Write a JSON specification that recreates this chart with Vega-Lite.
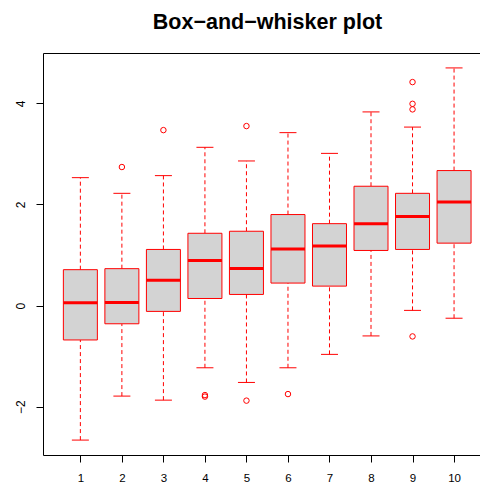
{
  "$schema": "https://vega.github.io/schema/vega-lite/v6.json",
  "width": 437,
  "height": 402,
  "autosize": {"type": "none"},
  "padding": {"left": 43, "top": 53, "right": 0, "bottom": 29},
  "background": "white",
  "title": {
    "text": "Box−and−whisker plot",
    "font": "Liberation Sans",
    "fontSize": 21.5,
    "fontWeight": "bold",
    "color": "black",
    "anchor": "middle",
    "baseline": "alphabetic",
    "dx": 6,
    "offset": 3
  },
  "datasets": {
    "boxes": [
      {"g": 1, "lo": -2.66, "q1": -0.68, "med": 0.055, "q3": 0.71, "hi": 2.53},
      {"g": 2, "lo": -1.79, "q1": -0.36, "med": 0.06, "q3": 0.73, "hi": 2.22},
      {"g": 3, "lo": -1.87, "q1": -0.115, "med": 0.5, "q3": 1.11, "hi": 2.57},
      {"g": 4, "lo": -1.23, "q1": 0.14, "med": 0.89, "q3": 1.43, "hi": 3.13},
      {"g": 5, "lo": -1.52, "q1": 0.22, "med": 0.735, "q3": 1.47, "hi": 2.86},
      {"g": 6, "lo": -1.23, "q1": 0.445, "med": 1.12, "q3": 1.8, "hi": 3.42},
      {"g": 7, "lo": -0.965, "q1": 0.385, "med": 1.18, "q3": 1.62, "hi": 3.01},
      {"g": 8, "lo": -0.6, "q1": 1.09, "med": 1.62, "q3": 2.36, "hi": 3.83},
      {"g": 9, "lo": -0.095, "q1": 1.11, "med": 1.76, "q3": 2.22, "hi": 3.53},
      {"g": 10, "lo": -0.25, "q1": 1.235, "med": 2.05, "q3": 2.67, "hi": 4.7}
    ],
    "outliers": [
      {"g": 2, "v": 2.74},
      {"g": 3, "v": 3.47},
      {"g": 4, "v": -1.77},
      {"g": 4, "v": -1.8},
      {"g": 5, "v": 3.55},
      {"g": 5, "v": -1.88},
      {"g": 6, "v": -1.75},
      {"g": 9, "v": 4.42},
      {"g": 9, "v": 3.99},
      {"g": 9, "v": 3.88},
      {"g": 9, "v": -0.61}
    ]
  },
  "config": {
    "view": {"stroke": null},
    "scale": {"continuousPadding": 0},
    "axis": {
      "grid": false,
      "domainColor": "black",
      "domainWidth": 1,
      "tickColor": "black",
      "tickWidth": 1,
      "tickSize": 7,
      "labelColor": "black",
      "labelFont": "Liberation Sans",
      "labelFontSize": 12,
      "title": null
    }
  },
  "layer": [
    {
      "data": {"name": "boxes"},
      "mark": {"type": "rule", "color": "red", "strokeWidth": 1, "strokeDash": [4, 3]},
      "encoding": {
        "x": {"field": "g", "type": "quantitative",
              "scale": {"domain": [0.1, 10.625], "nice": false, "zero": false, "padding": 0},
              "axis": {"orient": "bottom", "values": [1,2,3,4,5,6,7,8,9,10], "labelFontSize": 11.5, "labelPadding": 10.5, "labelFlush": false, "labelOverlap": false}},
        "y": {"field": "lo", "type": "quantitative",
              "scale": {"domain": [-2.955, 4.995], "nice": false, "zero": false},
              "axis": {"orient": "left", "values": [-2, 0, 2, 4], "labelAngle": -90, "labelAlign": "center", "labelBaseline": "alphabetic", "labelPadding": 12, "labelFlush": false}},
        "y2": {"field": "q1"}
      }
    },
    {
      "data": {"name": "boxes"},
      "mark": {"type": "rule", "color": "red", "strokeWidth": 1, "strokeDash": [4, 3]},
      "encoding": {
        "x": {"field": "g", "type": "quantitative", "axis": {"orient": "top", "ticks": false, "labels": false, "domain": true}},
        "y": {"field": "q3", "type": "quantitative", "axis": null},
        "y2": {"field": "hi"}
      }
    },
    {
      "data": {"name": "boxes"},
      "mark": {"type": "bar", "width": 34, "fill": "#d3d3d3", "stroke": "red", "strokeWidth": 1},
      "encoding": {
        "x": {"field": "g", "type": "quantitative", "axis": null},
        "y": {"field": "q1", "type": "quantitative", "axis": null},
        "y2": {"field": "q3"}
      }
    },
    {
      "data": {"name": "boxes"},
      "mark": {"type": "tick", "orient": "horizontal", "color": "red", "size": 34, "thickness": 3, "opacity": 1},
      "encoding": {
        "x": {"field": "g", "type": "quantitative", "axis": null},
        "y": {"field": "med", "type": "quantitative", "axis": null}
      }
    },
    {
      "data": {"name": "boxes"},
      "mark": {"type": "tick", "orient": "horizontal", "color": "red", "size": 17, "thickness": 1, "opacity": 1},
      "encoding": {
        "x": {"field": "g", "type": "quantitative", "axis": null},
        "y": {"field": "hi", "type": "quantitative", "axis": null}
      }
    },
    {
      "data": {"name": "boxes"},
      "mark": {"type": "tick", "orient": "horizontal", "color": "red", "size": 17, "thickness": 1, "opacity": 1},
      "encoding": {
        "x": {"field": "g", "type": "quantitative", "axis": null},
        "y": {"field": "lo", "type": "quantitative", "axis": null}
      }
    },
    {
      "data": {"name": "outliers"},
      "mark": {"type": "point", "shape": "circle", "filled": false, "color": "red", "size": 30, "strokeWidth": 1, "opacity": 1},
      "encoding": {
        "x": {"field": "g", "type": "quantitative", "axis": null},
        "y": {"field": "v", "type": "quantitative", "axis": null}
      }
    }
  ],
  "resolve": {"axis": {"x": "independent", "y": "independent"}}
}
